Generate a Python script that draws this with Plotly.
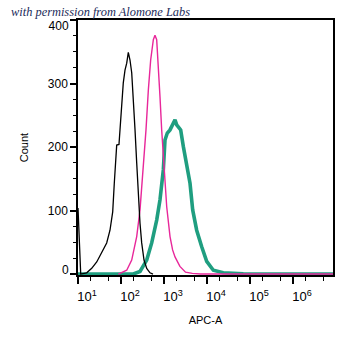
import plotly.graph_objects as go

# log10(APC-A) positions and counts
black_log = [1.0, 1.063, 1.202, 1.319, 1.435, 1.551, 1.667, 1.744, 1.807, 1.844, 1.877, 1.9, 1.953,
             2.0, 2.053, 2.093, 2.133, 2.17, 2.209, 2.249, 2.286, 2.326, 2.365, 2.402, 2.442, 2.481,
             2.535, 2.598, 2.674, 2.744]
black_cnt = [104, 0, 2, 9, 19, 33, 49, 69, 98, 143, 187, 203, 204,
             248, 301, 321, 332, 349, 337, 317, 279, 227, 175, 122, 80, 49,
             22, 9, 2, 0]

pink_log = [1.938, 2.133, 2.249, 2.365, 2.442, 2.519, 2.581, 2.636, 2.69, 2.752, 2.79, 2.83, 2.867,
            2.907, 2.946, 3.0, 3.063, 3.14, 3.2, 3.256, 3.37, 3.5, 3.66, 3.85, 6.93]
pink_cnt = [0, 6, 22, 59, 101, 164, 227, 290, 337, 369, 376, 369, 332,
            279, 227, 164, 106, 59, 38, 27, 12, 3, 1, 0, 0]

teal_log = [1.0, 2.286, 2.442, 2.598, 2.714, 2.83, 2.907, 2.984, 3.023, 3.077, 3.14, 3.216, 3.256,
            3.295, 3.333, 3.388, 3.449, 3.528, 3.605, 3.667, 3.76, 3.877, 3.993, 4.147, 4.379,
            4.844, 6.93]
teal_cnt = [0, 0, 4, 22, 49, 85, 117, 164, 211, 222, 227, 238, 243,
            235, 232, 227, 201, 169, 143, 101, 69, 43, 20, 6, 2,
            0.5, 0]

x_ticks = [10, 100, 1000, 10000, 100000, 1000000]
x_ticktext = ["10<sup>1</sup>", "10<sup>2</sup>", "10<sup>3</sup>", "10<sup>4</sup>",
              "10<sup>5</sup>", "10<sup>6</sup>"]
y_ticks = [0, 100, 200, 300, 400]
y_inner_ticks = [100, 200, 300]
y_top_tick = [400]
y_bottom_tick = [0]

Y_RANGE = [-1.5, 400]

fig = go.Figure()
fig.add_trace(go.Scatter(x=[10 ** v for v in teal_log], y=teal_cnt, mode="lines",
                         line=dict(color="#1f9e80", width=3.6), showlegend=False))
fig.add_trace(go.Scatter(x=[10 ** v for v in pink_log], y=pink_cnt, mode="lines",
                         line=dict(color="#e8279a", width=1.4), showlegend=False))
fig.add_trace(go.Scatter(x=[10 ** v for v in black_log], y=black_cnt, mode="lines",
                         line=dict(color="black", width=1.3), showlegend=False))
# empty helper traces so the label-only overlay axes are drawn
for ax in ["y2", "y3"]:
    fig.add_trace(go.Scatter(x=[None], y=[None], yaxis=ax, mode="lines",
                             showlegend=False, hoverinfo="skip"))

label_axis = dict(overlaying="y", range=Y_RANGE, autorange=False, side="left",
                  tickmode="array", ticks="outside", ticklen=6, tickcolor="rgba(0,0,0,0)",
                  showline=False, showgrid=False, zeroline=False, tickfont=dict(size=12))

fig.update_layout(
    width=354, height=347,
    margin=dict(l=78, r=21, t=20, b=72),
    paper_bgcolor="white", plot_bgcolor="white",
    font=dict(family="Liberation Sans, Arial, sans-serif", size=12, color="black"),
    annotations=[dict(text="<i>with permission from Alomone Labs</i>", xref="paper", yref="paper",
                      x=-0.27, y=0.998, xanchor="left", yanchor="bottom", showarrow=False,
                      font=dict(family="Liberation Serif, serif", size=12.4, color="#1c2b5a"))],
    yaxis2=dict(label_axis, tickvals=y_top_tick, ticklabelshift=6),
    yaxis3=dict(label_axis, tickvals=y_bottom_tick, ticklabelshift=-4),
)
fig.update_xaxes(
    type="log", range=[1, 6.93],
    tickvals=x_ticks, ticktext=x_ticktext,
    ticks="outside", ticklen=7, tickwidth=1.5, tickcolor="black",
    ticklabelshift=9, ticklabelstandoff=2,
    minor=dict(ticks="outside", ticklen=4, tickwidth=1, tickcolor="black", showgrid=False),
    showline=True, linecolor="black", linewidth=1.5, mirror=True,
    showgrid=False, zeroline=False,
    tickfont=dict(size=13),
    title=dict(text="APC-A", font=dict(size=11), standoff=13),
)
fig.update_layout(yaxis=dict(
    range=Y_RANGE, autorange=False, tickmode="array", tickvals=y_ticks,
    ticktext=["" if v not in y_inner_ticks else str(v) for v in y_ticks],
    ticks="outside", ticklen=6, tickwidth=1.5, tickcolor="black",
    minor=dict(dtick=25, ticks="outside", ticklen=3, tickwidth=1, tickcolor="black", showgrid=False),
    showline=True, linecolor="black", linewidth=1.5, mirror=True,
    showgrid=False, zeroline=False,
    tickfont=dict(size=12),
    title=dict(text="Count", font=dict(size=11), standoff=17),
))

fig.write_html("out.html")
